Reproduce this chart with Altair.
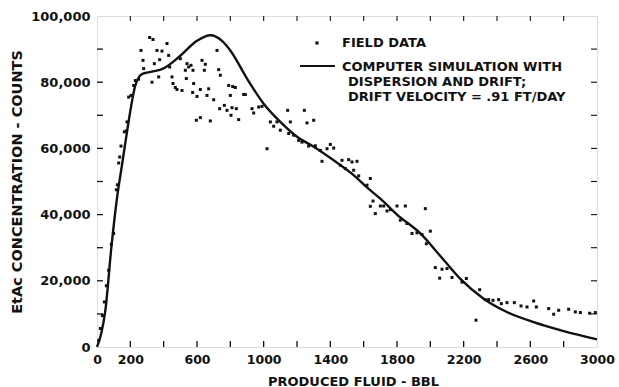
import altair as alt
import pandas as pd

# Field data: produced fluid (BBL) vs EtAc concentration (counts)
field_bbl = [
    10, 20, 32, 44, 56, 70, 86, 100, 116, 122, 130, 136, 144, 164, 176, 180, 190, 204,
    220, 230, 250, 264, 276, 280, 316, 336, 330, 344, 360, 390, 376, 370, 420, 430,
    436, 450, 456, 470, 480, 510, 500, 530, 540, 550, 564, 576, 536, 574, 600, 580,
    596, 620, 620, 630, 650, 644, 660, 670, 700, 680, 720, 730, 740, 736, 764, 790,
    814, 830, 800, 780, 810, 836, 804, 850, 880, 890, 930, 940, 970, 990, 1020, 1040,
    1060, 1080, 1100, 1144, 1160, 1150, 1180, 1210, 1230, 1244, 1260, 1300, 1270, 1310,
    1340, 1350, 1380, 1400, 1420, 1470, 1510, 1530, 1560, 1460, 1490, 1540, 1570, 1640,
    1620, 1640, 1656, 1670, 1700, 1720, 1740, 1760, 1800, 1850, 1970, 1820, 1860, 1890,
    1920, 1950, 1976, 2000, 2030, 2070, 2100, 2056, 2130, 2190, 2216, 2296, 2330, 2350,
    2376, 2410, 2274, 2426, 2460, 2504, 2544, 2580, 2620, 2636, 2710, 2740, 2770, 2830,
    2870, 2900, 2956, 2990,
]
field_counts = [
    2000, 5600, 9500, 13600, 18500, 23200, 31000, 34300, 47500, 49000, 55600, 57400,
    60700, 65000, 65300, 68000, 75500, 76000, 79000, 80500, 80900, 89600, 86600, 84100,
    93500, 92900, 80000, 85600, 89600, 89400, 86800, 81600, 91700, 88100, 84600, 81600,
    79600, 78400, 77800, 77500, 87100, 83600, 85600, 84600, 85100, 83600, 81100, 76900,
    75700, 79600, 68500, 69300, 77800, 86600, 85400, 83600, 76000, 78000, 74700, 68300,
    89600, 83800, 82100, 72000, 73000, 79000, 78700, 78400, 76000, 71500, 72300, 72000,
    70000, 68700, 76300, 76300, 72000, 70700, 72500, 72700, 59900, 68000, 66700, 68000,
    65500, 71500, 68000, 64500, 64000, 62400, 61900, 71500, 67700, 68500, 60700, 60800,
    59400, 56100, 59900, 61200, 60100, 56400, 56600, 55900, 56100, 54900, 53900, 53400,
    51700, 50900, 48900, 42500, 44100, 40300, 42600, 42600, 41100, 41500, 42600, 42600,
    41800, 38300, 37300, 34300, 34500, 34000, 31200, 35000, 24000, 23500, 23700, 20800,
    21000, 19600, 20700, 17300, 14300, 14300, 14100, 14300, 8100, 13100, 13400, 13400,
    12400, 12100, 13900, 12100, 11600, 9900, 11100, 11400, 10600, 10400, 10200, 10400,
]

# Computer simulation with dispersion and drift
sim_bbl = [0, 25, 50, 86, 120, 150, 180, 230, 265, 290, 330, 400, 500, 600, 680,
           750, 800, 900, 1000, 1100, 1200, 1300, 1420, 1550, 1620, 1700, 1800,
           1940, 2060, 2180, 2320, 2450, 2620, 2800, 3000]
sim_counts = [0, 4000, 11000, 30000, 45000, 55000, 65000, 79000, 82300, 82800, 83200,
              84200, 88000, 92500, 94200, 92500, 89600, 81100, 73500, 68000, 63500,
              60500, 56400, 51500, 48200, 44800, 40000, 34300, 27500, 20600, 14600,
              10800, 7500, 4800, 2300]

x_ticks = list(range(200, 3000, 200))
y_ticks = list(range(10000, 100000, 10000))
x_labels = [0, 200, 600, 1000, 1400, 1800, 2200, 2600, 3000]
y_labels = [0, 20000, 40000, 60000, 80000, 100000]

legend_points = "FIELD DATA"
legend_line = ["COMPUTER SIMULATION WITH", "DISPERSION AND DRIFT;",
               "DRIFT VELOCITY = .91 FT/DAY"]

W, H = 500, 331
FONT = "DejaVu Sans"
INK = "#111111"

xscale = alt.Scale(domain=[0, 3000], nice=False, zero=False)
yscale = alt.Scale(domain=[0, 100000], nice=False, zero=False)

field_df = pd.DataFrame({"bbl": field_bbl, "counts": field_counts})
sim_df = pd.DataFrame({"bbl": sim_bbl, "counts": sim_counts})

x_axis = alt.Axis(
    values=x_labels, format="d", ticks=False, domain=False, grid=False,
    labelFont=FONT, labelFontWeight="bold", labelFontSize=12.5, labelColor=INK,
    labelPadding=6, labelFlush=False, labelOverlap=False,
    title="PRODUCED FLUID - BBL", titleFont=FONT, titleFontWeight="bold",
    titleFontSize=13, titleColor=INK, titleX=256, titleY=34,
    titleAlign="center", titleBaseline="middle",
)
y_axis = alt.Axis(
    values=y_labels, format=",d", ticks=False, domain=False, grid=False,
    labelFont=FONT, labelFontWeight="bold", labelFontSize=13, labelColor=INK,
    labelPadding=7, labelOverlap=False,
    title="EtAc CONCENTRATION - COUNTS", titleFont=FONT, titleFontWeight="bold",
    titleFontSize=14.5, titleColor=INK, titleX=-80, titleY=165.5, titleAngle=270,
    titleAlign="center", titleBaseline="middle",
)

X = lambda f: alt.X(f, scale=xscale, axis=x_axis)
Y = lambda f: alt.Y(f, scale=yscale, axis=y_axis)

points = alt.Chart(field_df).mark_square(size=9, color=INK, opacity=1).encode(
    x=X("bbl:Q"), y=Y("counts:Q"))

curve = alt.Chart(sim_df).mark_line(color=INK, strokeWidth=2.4, interpolate="monotone").encode(
    x=X("bbl:Q"), y=Y("counts:Q"))

xt_df = pd.DataFrame({"v": x_ticks})
yt_df = pd.DataFrame({"v": y_ticks})

# Inward ticks on all four sides of the frame
bottom_ticks = alt.Chart(xt_df).mark_rule(color=INK, strokeWidth=1.3).encode(
    x=X("v:Q"), y=alt.value(H), y2=alt.value(H - 6))
top_ticks = alt.Chart(xt_df).mark_rule(color=INK, strokeWidth=1.1).encode(
    x=X("v:Q"), y=alt.value(0), y2=alt.value(5))
left_ticks = alt.Chart(yt_df).mark_rule(color=INK, strokeWidth=1.3).encode(
    y=Y("v:Q"), x=alt.value(0), x2=alt.value(6))
right_ticks = alt.Chart(yt_df).mark_rule(color=INK, strokeWidth=1.1).encode(
    y=Y("v:Q"), x=alt.value(W), x2=alt.value(W - 6))

# Legend
leg_dot = alt.Chart(pd.DataFrame({"k": [0]})).mark_square(size=10, color=INK, opacity=1).encode(
    x=alt.value(220), y=alt.value(27))
leg_rule = alt.Chart(pd.DataFrame({"k": [0]})).mark_rule(color=INK, strokeWidth=1.8).encode(
    x=alt.value(203), x2=alt.value(238), y=alt.value(50))

text_style = dict(font=FONT, fontWeight="bold", fontSize=13, color=INK,
                  align="left", baseline="middle")
leg_texts = [
    alt.Chart(pd.DataFrame({"label": [legend_points]})).mark_text(**text_style).encode(
        text="label:N", x=alt.value(245), y=alt.value(27)),
    alt.Chart(pd.DataFrame({"label": [legend_line[0]]})).mark_text(**text_style).encode(
        text="label:N", x=alt.value(245), y=alt.value(51)),
    alt.Chart(pd.DataFrame({"label": [legend_line[1]]})).mark_text(**text_style).encode(
        text="label:N", x=alt.value(251), y=alt.value(66)),
    alt.Chart(pd.DataFrame({"label": [legend_line[2]]})).mark_text(**text_style).encode(
        text="label:N", x=alt.value(251), y=alt.value(81)),
]

chart = alt.layer(
    points, curve, bottom_ticks, top_ticks, left_ticks, right_ticks,
    leg_dot, leg_rule, *leg_texts,
).properties(
    width=W, height=H,
    autosize=alt.AutoSizeParams(type="none"),
    padding={"left": 97, "top": 16, "right": 22, "bottom": 40},
).configure_view(
    stroke=INK, strokeWidth=1.6,
).configure(background="white")

chart.save("out.html", embed_options={"renderer": "svg", "actions": False})
